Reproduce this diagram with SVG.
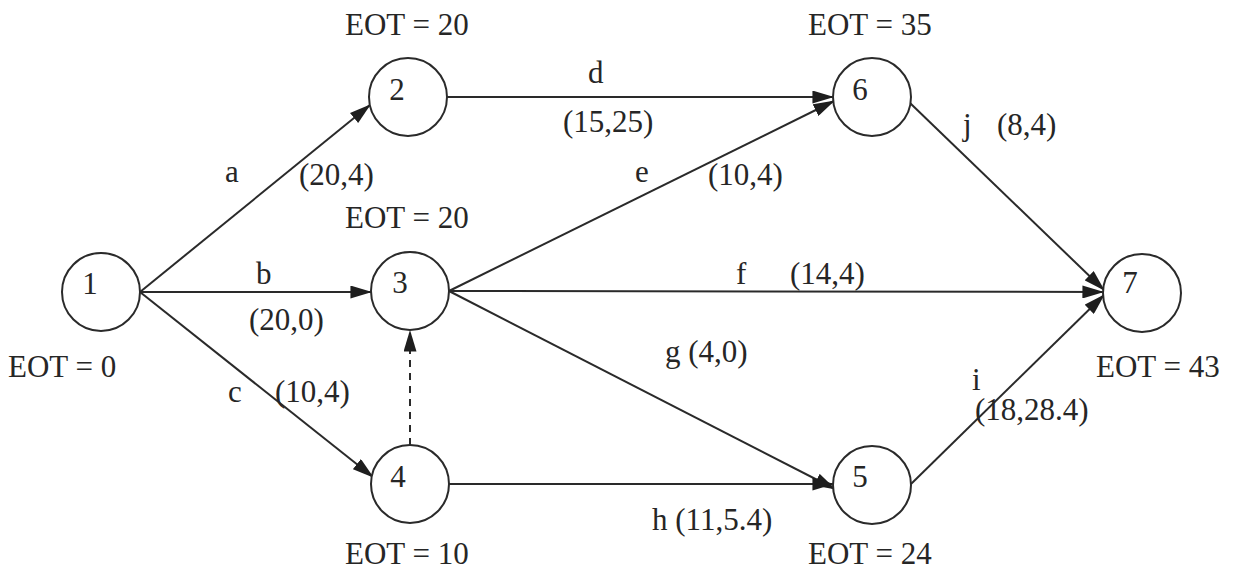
<svg xmlns="http://www.w3.org/2000/svg" width="1233" height="573" viewBox="0 0 1233 573">
<style>
.node circle{fill:#fff;stroke:#2a2a2a;stroke-width:2}
text{font-size:31px;fill:#262626}
.num{text-anchor:middle}
.edge{stroke:#2a2a2a;stroke-width:2;fill:none;marker-end:url(#ah)}
.dash{stroke-dasharray:7,6}
</style>
<defs>
<marker id="ah" markerUnits="userSpaceOnUse" viewBox="0 0 20 12" refX="19" refY="6" markerWidth="22" markerHeight="13" orient="auto">
<path d="M0,0 L20,6 L0,12 z" fill="#1e1e1e"/>
</marker>
</defs>
<rect width="1233" height="573" fill="#fff"/>
<g id="connectors">
<line class="edge" x1="140" y1="292" x2="370" y2="105"/>
<line class="edge" x1="140" y1="292" x2="371" y2="292"/>
<line class="edge" x1="140" y1="292" x2="373" y2="477"/>
<line class="edge" x1="447" y1="97" x2="833" y2="97"/>
<line class="edge" x1="449" y1="291" x2="834" y2="101"/>
<line class="edge" x1="449" y1="291" x2="1103" y2="292"/>
<line class="edge" x1="449" y1="291" x2="835" y2="489"/>
<line class="edge" x1="449" y1="484" x2="833" y2="484"/>
<line class="edge dash" x1="410" y1="445" x2="410" y2="331"/>
<line class="edge" x1="910" y1="103" x2="1104" y2="290"/>
<line class="edge" x1="911" y1="484" x2="1104" y2="295"/>
</g>
<g font-family="'Liberation Serif', 'Times New Roman', serif">
<g id="node1" class="node"><circle cx="101" cy="292" r="39"/><text class="num" x="90" y="294">1</text></g>
<g id="node2" class="node"><circle cx="408" cy="97" r="39"/><text class="num" x="397" y="100">2</text></g>
<g id="node3" class="node"><circle cx="410" cy="291" r="39"/><text class="num" x="400" y="293">3</text></g>
<g id="node4" class="node"><circle cx="410" cy="484" r="39"/><text class="num" x="398" y="487">4</text></g>
<g id="node5" class="node"><circle cx="872" cy="485" r="39"/><text class="num" x="860" y="487">5</text></g>
<g id="node6" class="node"><circle cx="872" cy="97" r="39"/><text class="num" x="860" y="100">6</text></g>
<g id="node7" class="node"><circle cx="1142" cy="293" r="39"/><text class="num" x="1130" y="293">7</text></g>
<g id="labels">
<text x="345" y="35">EOT = 20</text>
<text x="808" y="35">EOT = 35</text>
<text x="345" y="228">EOT = 20</text>
<text x="8" y="377">EOT = 0</text>
<text x="345" y="564">EOT = 10</text>
<text x="808" y="564">EOT = 24</text>
<text x="1096" y="377">EOT = 43</text>
<text x="225" y="182">a</text>
<text x="299" y="185">(20,4)</text>
<text x="588" y="83">d</text>
<text x="563" y="132">(15,25)</text>
<text x="635" y="182">e</text>
<text x="708" y="185">(10,4)</text>
<text x="963" y="135">j</text>
<text x="997" y="135">(8,4)</text>
<text x="256" y="284">b</text>
<text x="249" y="330">(20,0)</text>
<text x="736" y="284">f</text>
<text x="790" y="284">(14,4)</text>
<text x="228" y="402">c</text>
<text x="275" y="402">(10,4)</text>
<text x="665" y="362">g (4,0)</text>
<text x="972" y="390">i</text>
<text x="975" y="420">(18,28.4)</text>
<text x="652" y="530">h (11,5.4)</text>
</g>
</g>
</svg>
